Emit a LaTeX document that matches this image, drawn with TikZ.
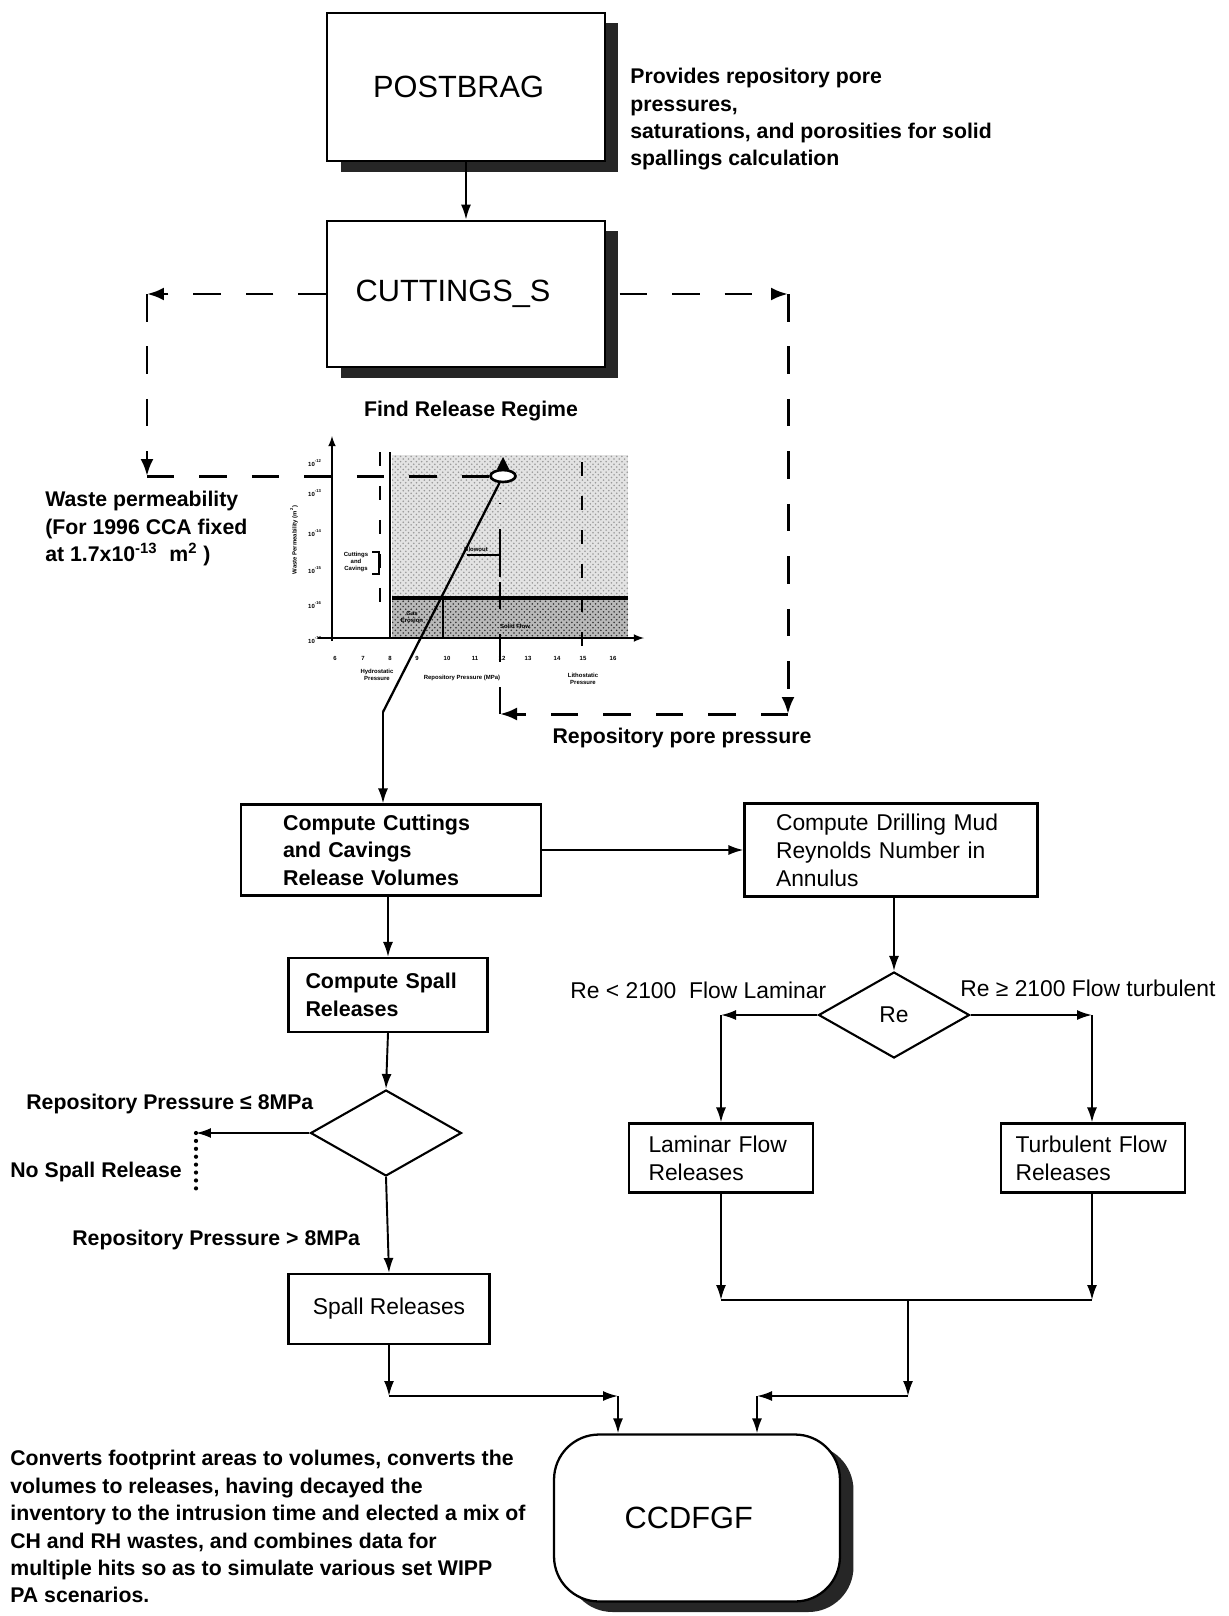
\documentclass[tikz,border=0pt]{standalone}
\usepackage{fontspec}
\setmainfont{Liberation Sans}
\usetikzlibrary{shapes.geometric,shadows,patterns,arrows.meta}

\begin{document}
\begin{tikzpicture}[x=0.02cm,y=-0.02cm,
    prog/.style={draw,line width=1.3pt,fill=white,font=\fontsize{17.5}{21}\selectfont,
        drop shadow={shadow xshift=0.27cm,shadow yshift=-0.21cm,opacity=1,fill=black!85}},
    stepbox/.style={draw,line width=1.2pt,fill=white,align=left,inner ysep=0pt,
        font=\fontsize{12.2}{15.6}\selectfont\bfseries},
    plainbox/.style={draw,line width=1.2pt,fill=white,align=left,inner ysep=0pt,
        font=\fontsize{13}{16}\selectfont},
    decide/.style={draw,diamond,line width=1.2pt,inner sep=0pt,fill=white,
        minimum width=3.02cm,minimum height=1.72cm,font=\fontsize{13}{16}\selectfont},
    note/.style={align=left,inner sep=0pt,font=\fontsize{12.1}{15.6}\selectfont\bfseries},
    remark/.style={align=left,inner sep=0pt,font=\fontsize{13}{16}\selectfont},
    flow/.style={line width=1.1pt,-{Latex[length=3mm,width=2mm]}},
    feed/.style={line width=1.7pt,dash pattern=on 0.55cm off 0.5cm,-{Latex[length=3.4mm,width=2.6mm]}},
    chartdash/.style={line width=1.3pt,dash pattern=on 0.28cm off 0.4cm},
    chartlbl/.style={font=\fontsize{3.4}{3.8}\selectfont\bfseries,inner sep=0pt,align=center},
]
    \useasboundingbox (0,0) rectangle (1228,1616);

    % top programs
    \node[prog,minimum width=5.56cm,minimum height=2.97cm] (post) at (466,87) {\hspace*{-0.3cm}POSTBRAG};
    \node[note,anchor=north west] (postnote) at (630,68) {Provides repository pore\\pressures,\\saturations, and porosities for solid\\spallings calculation};
    \node[prog,minimum width=5.56cm,minimum height=2.93cm] (cut) at (466,294) {\hspace*{-0.52cm}CUTTINGS\_S};
    \draw[flow] (post.south) -- (cut.north);
    \node[note] (find) at (471,411) {Find Release Regime};

    % release regime chart
    \fill[gray!22] (392,455) rectangle (628,598);
    \fill[pattern=crosshatch dots,pattern color=gray!80] (392,455) rectangle (628,598);
    \fill[gray!55] (392,598) rectangle (628,637);
    \fill[pattern=crosshatch dots,pattern color=black!80] (392,598) rectangle (628,637);
    \draw[line width=1.8pt] (392,598) -- (628,598);
    \draw[line width=1.4pt] (390,452) -- (390,637);
    \draw[line width=0.8pt] (443,598) -- (443,637);
    \draw[line width=1pt,-latex] (332,641) -- (332,436);
    \draw[line width=1pt,-latex] (318,638) -- (644,638);
    \draw[chartdash] (380,452) -- (380,620);
    \draw[chartdash] (582,462) -- (582,656);
    \draw[line width=0.8pt] (467,555) -- (500,555) -- (500,577);
    \draw[line width=0.6pt] (372,552) -- (379,552) -- (379,574) -- (372,574);
    \node[chartlbl] (cav) at (356,562) {Cuttings\\and\\Cavings};
    \node[chartlbl] (gas) at (412,617) {Gas\\Erosion};
    \node[chartlbl] (solid) at (515,626) {Solid Flow};
    \node[chartlbl] (blow) at (476,549) {Blowout};
    \node[chartlbl] (hyd) at (377,675) {Hydrostatic\\Pressure};
    \node[chartlbl] (lith) at (583,679) {Lithostatic\\Pressure};
    \node[chartlbl] (xlab) at (462,678) {Repository Pressure (MPa)};
    \node[chartlbl,rotate=90] (ylab) at (294,540) {Waste Permeability (m\textsuperscript{2})};
    \path[chartlbl] (335,658) node (x6) {6} (363,658) node (x7) {7} (390,658) node (x8) {8}
        (417,658) node (x9) {9} (447,658) node (x10) {10} (475,658) node (x11) {11}
        (502,658) node (x12) {12} (528,658) node (x13) {13} (557,658) node (x14) {14}
        (583,658) node (x15) {15} (613,658) node (x16) {16};
    \path[chartlbl] (315,463) node (y12) {10\textsuperscript{-12}} (315,493) node (y13) {10\textsuperscript{-13}}
        (315,533) node (y14) {10\textsuperscript{-14}} (315,570) node (y15) {10\textsuperscript{-15}}
        (315,605) node (y16) {10\textsuperscript{-16}} (315,640) node (y17) {10\textsuperscript{-17}};
    \node[draw,ellipse,line width=1.5pt,fill=white,minimum width=0.5cm,minimum height=0.24cm,inner sep=0pt] (mark) at (503,476) {};
    \fill (503,457) -- (497,469) -- (509,469) -- cycle;

    % dashed feedback
    \coordinate (tl) at (147,294);
    \coordinate (bl) at (147,476);
    \draw[feed] (cut.west) -- (tl);
    \draw[feed] (tl) -- (bl);
    \draw[feed,-] (bl) -- (mark);
    \node[note,anchor=north west] (wpnote) at (45,491) {Waste permeability\\(For 1996 CCA fixed\\at 1.7x10\textsuperscript{-13}\ \ m\textsuperscript{2} )};
    \coordinate (tr) at (788,294);
    \coordinate (br) at (788,714);
    \coordinate (pp) at (500,714);
    \coordinate (pptop) at (500,503);
    \draw[feed] ([xshift=0.27cm]cut.east) -- (tr);
    \draw[feed] (tr) -- (br);
    \draw[feed] (br) -- (pp);
    \draw[feed,-] (pp) -- (pptop);
    \node[note] (pplbl) at (682,738) {Repository pore pressure};

    % cuttings and spall branch
    \node[stepbox,minimum width=6cm,minimum height=1.82cm,text width=4.32cm] (cc) at (391,850) {Compute Cuttings\\and Cavings\\Release Volumes};
    \coordinate (kink) at (383,712);
    \draw[line width=1.3pt] (mark) -- (kink);
    \draw[flow] (kink) -- (kink |- cc.north);
    \node[stepbox,minimum width=3.98cm,minimum height=1.48cm,text width=3.3cm] (sp) at (388,995) {Compute Spall\\Releases};
    \draw[flow] (cc.south -| sp.north) -- (sp.north);
    \node[decide] (d1) at (386,1133) {};
    \draw[flow] (sp.south) -- (d1.north);
    \coordinate (nsp) at (196,1133);
    \coordinate (nspend) at (196,1190);
    \draw[flow] (d1.west) -- (nsp);
    \draw[line width=2.4pt,line cap=round,dash pattern=on 0pt off 4.5pt] (nsp) -- (nspend);
    \node[note,anchor=west] (le8) at (26,1104) {Repository Pressure ≤ 8MPa};
    \node[note,anchor=west] (nospall) at (10,1172) {No Spall Release};
    \node[note,anchor=west] (gt8) at (72,1240) {Repository Pressure > 8MPa};
    \node[plainbox,minimum width=4.02cm,minimum height=1.4cm,align=center] (sr) at (389,1309) {Spall Releases};
    \draw[flow] (d1.south) -- (sr.north);

    % drilling mud branch
    \node[plainbox,minimum width=5.86cm,minimum height=1.86cm,text width=4.6cm] (dm) at (891,850) {Compute Drilling Mud\\Reynolds Number in\\Annulus};
    \draw[flow] (cc) -- (dm);
    \node[decide] (re) at (894,1015) {Re};
    \draw[flow] (dm.south -| re.north) -- (re.north);
    \node[remark,anchor=west] (lamlbl) at (570,990) {Re < 2100\ \ Flow Laminar};
    \node[remark,anchor=west] (turlbl) at (960,988) {Re ≥ 2100 Flow turbulent};
    \node[plainbox,minimum width=3.68cm,minimum height=1.38cm,text width=2.9cm] (lam) at (721,1158) {Laminar Flow\\Releases};
    \node[plainbox,minimum width=3.68cm,minimum height=1.38cm,text width=3.1cm] (tur) at (1093,1158) {Turbulent Flow\\Releases};
    \coordinate (lc) at (721,1015);
    \coordinate (rc) at (1092,1015);
    \draw[flow] (re.west) -- (lc);
    \draw[flow] (lc) -- (lam.north);
    \draw[flow] (re.east) -- (rc);
    \draw[flow] (rc) -- (tur.north -| rc);
    \coordinate (lb) at (721,1300);
    \coordinate (rb) at (1092,1300);
    \coordinate (mb) at (908,1300);
    \draw[flow] (lam.south) -- (lb);
    \draw[flow] (tur.south -| rb) -- (rb);
    \draw[line width=1.1pt] (lb) -- (rb);

    % final program
    \node[prog,rounded corners=0.9cm,minimum width=5.72cm,minimum height=3.34cm] (ccdf) at (697,1518) {\hspace*{-0.33cm}CCDFGF};
    \coordinate (j1) at (389,1396);
    \coordinate (j2) at (618,1396);
    \draw[flow] (sr.south) -- (j1);
    \draw[flow] (j1) -- (j2);
    \draw[flow] (j2) -- (j2 |- ccdf.north);
    \coordinate (j3) at (908,1396);
    \coordinate (j4) at (757,1396);
    \draw[flow] (mb) -- (j3);
    \draw[flow] (j3) -- (j4);
    \draw[flow] (j4) -- (j4 |- ccdf.north);
    \node[note,anchor=north west] (ccdfnote) at (10,1450) {Converts footprint areas to volumes, converts the\\volumes to releases, having decayed the\\inventory to the intrusion time and elected a mix of\\CH and RH wastes, and combines data for\\multiple hits so as to simulate various set WIPP\\PA scenarios.};
\end{tikzpicture}
\end{document}
